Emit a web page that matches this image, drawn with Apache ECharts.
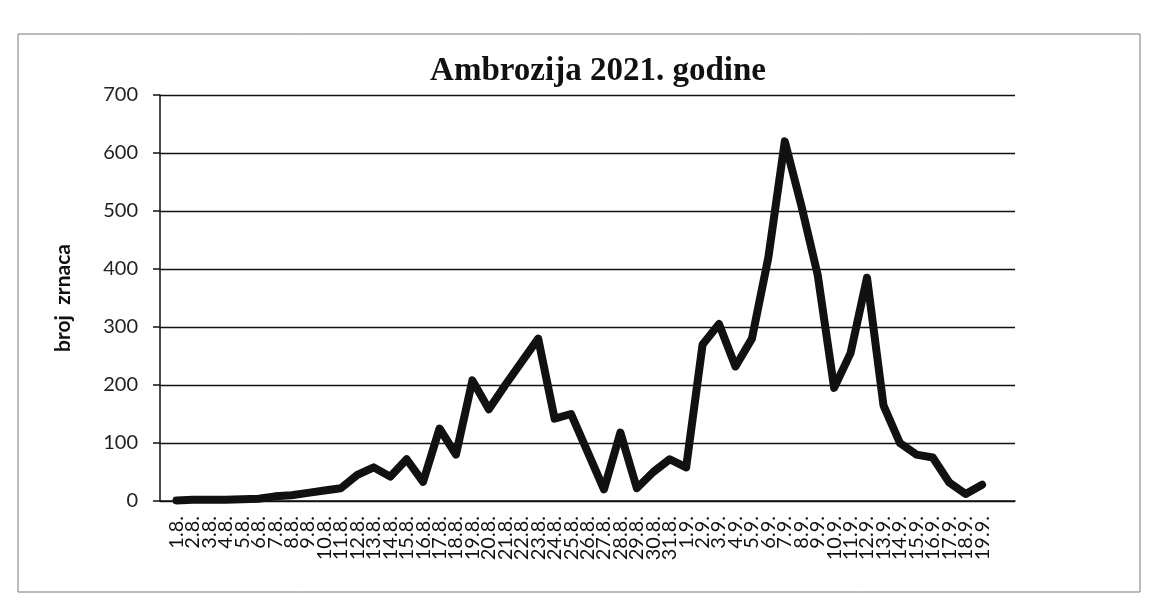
<!DOCTYPE html>
<html>
<head>
<meta charset="utf-8">
<script src="https://cdn.jsdelivr.net/npm/echarts@6/dist/echarts.min.js"></script>
<style>
html,body{margin:0;padding:0;background:#fff;}
#chart{width:1151px;height:610px;}
</style>
</head>
<body>
<div id="chart"></div>
<script>
const titleText = 'Ambrozija 2021. godine';
const yAxisName = 'broj  zrnaca';
const dateLabels = [
  '1.8.','2.8.','3.8.','4.8.','5.8.','6.8.','7.8.','8.8.','9.8.','10.8.',
  '11.8.','12.8.','13.8.','14.8.','15.8.','16.8.','17.8.','18.8.','19.8.','20.8.',
  '21.8.','22.8.','23.8.','24.8.','25.8.','26.8.','27.8.','28.8.','29.8.','30.8.',
  '31.8.','1.9.','2.9.','3.9.','4.9.','5.9.','6.9.','7.9.','8.9.','9.9.',
  '10.9.','11.9.','12.9.','13.9.','14.9.','15.9.','16.9.','17.9.','18.9.','19.9.'
];
const pollenCount = [
  1, 2, 2, 2, 3, 4, 8, 10, 14, 18,
  22, 45, 58, 42, 72, 33, 125, 80, 208, 158,
  200, 240, 280, 142, 150, 85, 20, 118, 22, 50,
  72, 58, 270, 305, 232, 280, 420, 620, 510, 390,
  195, 255, 385, 165, 100, 80, 75, 32, 12, 28
];
const yTicks = [0, 100, 200, 300, 400, 500, 600, 700];

const chart = echarts.init(document.getElementById('chart'), null, {renderer: 'canvas'});
chart.setOption({
  animation: false,
  backgroundColor: '#ffffff',
  title: {
    text: titleText,
    left: 593,
    textAlign: 'center',
    top: 50,
    textStyle: {fontFamily: 'Liberation Serif', fontWeight: 'bold', fontSize: 33, color: '#111'}
  },
  graphic: [{
    type: 'rect',
    shape: {x: 18, y: 34, width: 1122, height: 558},
    style: {fill: 'none', stroke: '#777', lineWidth: 1}
  }],
  grid: {left: 160, right: 136, top: 95, bottom: 109},
  xAxis: {
    type: 'value',
    min: -1,
    max: 51,
    interval: 1,
    axisLine: {show: true, onZero: true, lineStyle: {color: '#111', width: 1.5}},
    axisTick: {show: false},
    splitLine: {show: false},
    axisLabel: {
      rotate: 90,
      margin: 15,
      fontFamily: 'Lato',
      fontSize: 20,
      color: '#111',
      formatter: function (v) {
        const i = Math.round(v);
        return (i >= 0 && i < dateLabels.length) ? dateLabels[i] : '';
      }
    }
  },
  yAxis: {
    type: 'value',
    min: yTicks[0],
    max: yTicks[yTicks.length - 1],
    interval: 100,
    name: yAxisName,
    nameLocation: 'middle',
    nameGap: 86,
    nameTextStyle: {fontFamily: 'Lato', fontWeight: 'bold', fontSize: 21, color: '#111'},
    axisLine: {show: true, onZero: false, lineStyle: {color: '#111', width: 1.5}},
    axisTick: {show: true, inside: false, length: 7, lineStyle: {color: '#111', width: 1.5}},
    axisLabel: {margin: 22, fontFamily: 'Lato', fontSize: 20, color: '#222'},
    splitLine: {show: true, lineStyle: {color: '#111', width: 1.4}}
  },
  series: [{
    type: 'line',
    data: pollenCount.map(function (v, i) { return [i, v]; }),
    symbol: 'none',
    lineStyle: {color: '#111', width: 8, join: 'round', cap: 'round'}
  }]
});
</script>
</body>
</html>
